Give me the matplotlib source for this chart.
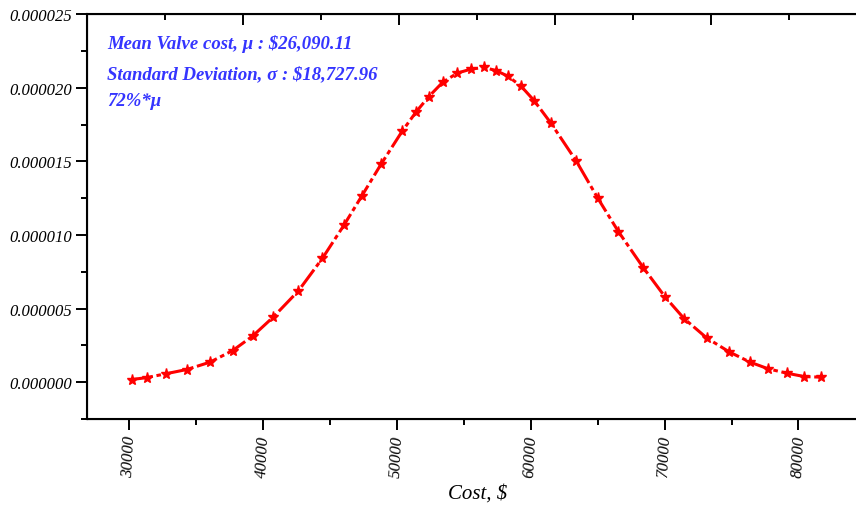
import matplotlib.pyplot as plt
from matplotlib.ticker import MultipleLocator, FormatStrFormatter

cost = [30179, 31300, 32721, 34290, 36031, 37728, 39223, 40762, 42631, 44425,
        46047, 47392, 48812, 50382, 51428, 52377, 53424, 54515, 55539, 56510,
        57407, 58282, 59276, 60247, 61496, 63387, 65008, 66548, 68417, 70038,
        71458, 73154, 74844, 76391, 77736, 79134, 80449, 81698]
# probability density, in units of 1e-6
density = [0.18, 0.31, 0.57, 0.86, 1.36, 2.15, 3.14, 4.43, 6.20, 8.41,
           10.68, 12.68, 14.81, 17.04, 18.36, 19.40, 20.38, 21.00, 21.27, 21.38,
           21.17, 20.79, 20.11, 19.13, 17.61, 15.04, 12.50, 10.23, 7.77, 5.79,
           4.32, 3.00, 2.05, 1.36, 0.91, 0.61, 0.38, 0.34]
notes = ['Mean Valve cost, μ : $26,090.11',
         'Standard Deviation, σ : $18,727.96',
         '72%*μ']

plt.rcParams['font.family'] = ['Liberation Serif', 'DejaVu Serif']

fig = plt.figure(figsize=(8.56, 5.06), dpi=100)
ax = fig.add_axes([0.102, 0.170, 0.911, 0.800])

ax.plot(cost, [d * 1e-6 for d in density], color='#ff0000', lw=2.2,
        ls=(0, (7, 1.2, 1.5, 1.2)), marker='*', ms=8, mec='#ff0000', mfc='#ff0000')

ax.set_xlim(26860, 85135)
ax.set_ylim(-2.5e-6, 2.5e-5)
ax.xaxis.set_major_locator(MultipleLocator(10000))
ax.xaxis.set_minor_locator(MultipleLocator(5000))
ax.yaxis.set_major_locator(MultipleLocator(5e-6))
ax.yaxis.set_minor_locator(MultipleLocator(2.5e-6))
ax.yaxis.set_major_formatter(FormatStrFormatter('%.6f'))

ax.tick_params(which='major', direction='out', length=8, width=1.4, labelsize=12)
ax.tick_params(which='minor', direction='out', length=4, width=1.4)
ax.tick_params(axis='y', pad=3)
ax.tick_params(axis='x', pad=3)
for lab in ax.get_xticklabels() + ax.get_yticklabels():
    lab.set_fontstyle('italic')
for lab in ax.get_xticklabels():
    lab.set_rotation(87)
    lab.set_ha('center')
    lab.set_va('top')
for s in ax.spines.values():
    s.set_linewidth(1.5)

# top axis with its own inward ticks, no labels
top = ax.twiny()
top.set_xlim(0, 5)
top.xaxis.set_major_locator(MultipleLocator(1))
top.xaxis.set_minor_locator(MultipleLocator(0.5))
top.tick_params(which='major', direction='in', length=8, width=1.4, labeltop=False)
top.tick_params(which='minor', direction='in', length=4, width=1.4)

ax.set_xlabel('Cost, $', fontsize=15, fontstyle='italic', labelpad=5)

for i, t in enumerate(notes):
    ax.text(0.0253, [0.928, 0.854, 0.786][i], t, transform=ax.transAxes,
            color='#3535ff', fontsize=13.5, fontweight='bold', fontstyle='italic',
            va='center', ha='left')

fig.savefig('out.png', dpi=100)
